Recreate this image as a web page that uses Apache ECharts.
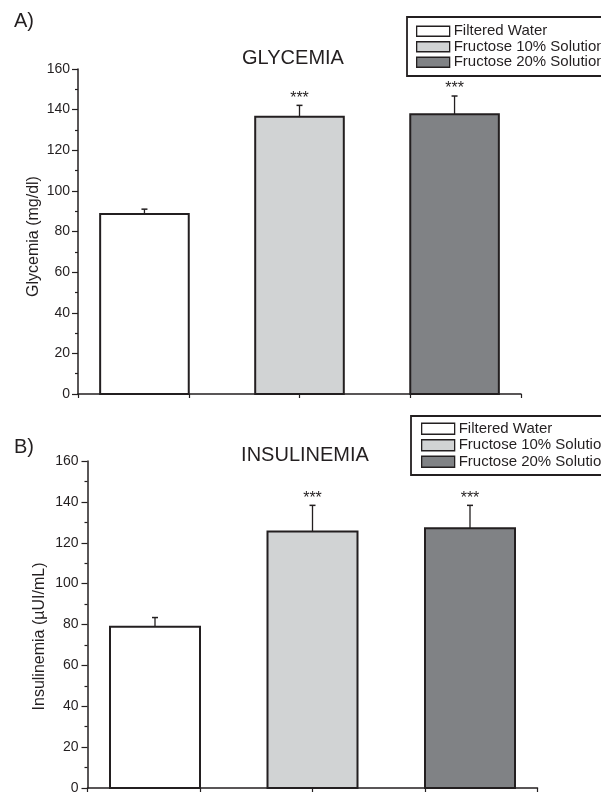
<!DOCTYPE html>
<html>
<head>
<meta charset="utf-8">
<script src="https://cdn.jsdelivr.net/npm/echarts@6/dist/echarts.min.js"></script>
<style>
html,body{margin:0;padding:0;background:#fff;}
#chart{width:601px;height:795px;}
</style>
</head>
<body>
<div id="chart"></div>
<script>
// ---- data ----
const groups = ['Filtered Water', 'Fructose 10% Solution', 'Fructose 20% Solution'];
const glycemia = [88.6, 136.5, 137.7];
const glycemiaErr = [2.4, 5.6, 9.0];
const insulinemia = [78.9, 125.5, 127.1];
const insulinemiaErr = [4.5, 12.8, 11.2];
const significance = ['', '***', '***'];
const yTicks = [0, 20, 40, 60, 80, 100, 120, 140, 160];

// ---- style / layout ----
const FONT = '"Liberation Sans", Arial, Helvetica, sans-serif';
const INK = '#231f20';
const fills = ['#ffffff', '#d1d3d4', '#808285'];
const barCenters = [0.6, 2.0, 3.4];
const halfW = 0.4;

const chart = echarts.init(document.getElementById('chart'), null, {renderer: 'canvas'});

function barSeries(gi, idx, values, errs) {
  return {
    type: 'custom',
    name: groups[idx],
    xAxisIndex: gi, yAxisIndex: gi,
    itemStyle: {color: fills[idx], borderColor: INK, borderWidth: 1.5},
    data: [[barCenters[idx], values[idx], errs[idx]]],
    renderItem: function (params, api) {
      const x = api.value(0), v = api.value(1), e = api.value(2);
      const tl = api.coord([x - halfW, v]);
      const br = api.coord([x + halfW, 0]);
      const c0 = api.coord([x, v]);
      const c1 = api.coord([x, v + e]);
      const children = [
        {type: 'line', shape: {x1: c0[0], y1: c0[1], x2: c1[0], y2: c1[1]},
         style: {stroke: INK, lineWidth: 1.3}},
        {type: 'line', shape: {x1: c1[0] - 3, y1: c1[1], x2: c1[0] + 3, y2: c1[1]},
         style: {stroke: INK, lineWidth: 1.5}},
        {type: 'rect', shape: {x: tl[0], y: tl[1], width: br[0] - tl[0], height: br[1] - tl[1]},
         style: {fill: fills[idx], stroke: INK, lineWidth: 2}}
      ];
      if (significance[idx]) {
        children.push({type: 'text', x: c1[0], y: c1[1] + 1,
          style: {text: significance[idx], align: 'center', verticalAlign: 'bottom',
                  font: '16px ' + FONT, fill: INK}});
      }
      return {type: 'group', children: children};
    }
  };
}

function yAxis(gi, name, margin, nameGap, pad) {
  return {
    type: 'value', gridIndex: gi, min: yTicks[0], max: yTicks[yTicks.length - 1], interval: 20,
    name: name, nameLocation: 'middle', nameGap: nameGap, nameMoveOverlap: false,
    nameTextStyle: {fontFamily: FONT, fontSize: 16, color: INK, padding: pad},
    axisLine: {show: true, lineStyle: {color: INK, width: 1.5}},
    axisTick: {show: true, length: 6, lineStyle: {color: INK, width: 1.2}},
    minorTick: {show: true, splitNumber: 2, length: 3, lineStyle: {color: INK, width: 1.2}},
    splitLine: {show: false},
    axisLabel: {fontFamily: FONT, fontSize: 14, color: INK, margin: margin}
  };
}
function xAxis(gi) {
  return {
    type: 'value', gridIndex: gi, min: 0, max: 4, interval: 1,
    axisLine: {show: true, lineStyle: {color: INK, width: 1.5}},
    axisTick: {show: true, length: 4, lineStyle: {color: INK, width: 1.2}},
    splitLine: {show: false},
    axisLabel: {show: false}
  };
}
function legend(left, top, padding, lineH, iconH) {
  return {
    orient: 'vertical', left: left, top: top, padding: padding, itemGap: 0,
    itemWidth: 33, itemHeight: iconH, icon: 'rect',
    borderColor: INK, borderWidth: 1.8, backgroundColor: '#fff',
    itemStyle: {borderColor: INK, borderWidth: 1.3},
    textStyle: {fontFamily: FONT, fontSize: 15, color: INK, lineHeight: lineH, padding: [0, 0, 0, -1]},
    data: groups.slice()
  };
}
function label(x, y, text, size) {
  return {type: 'text', x: x, y: y,
    style: {text: text, font: size + 'px ' + FONT, fill: INK, align: 'center', verticalAlign: 'middle'}};
}

chart.setOption({
  animation: false,
  backgroundColor: '#fff',
  grid: [
    {left: 78, top: 69, width: 443, height: 325},
    {left: 87.5, top: 461, width: 450, height: 329.5}
  ],
  xAxis: [xAxis(0), xAxis(1)],
  yAxis: [
    yAxis(0, 'Glycemia (mg/dl)', 8, 36, [0, 10, 0, 0]),
    yAxis(1, 'Insulinemia (\u00b5UI/mL)', 9, 40, [0, 24, 0, 0])
  ],
  legend: [
    legend(407, 17, [6.5, 10, 6, 9], 15.5, 10),
    legend(411, 416, [4.5, 10, 5, 10], 16.5, 11)
  ],
  graphic: [
    label(24, 21, 'A)', 20),
    label(293, 58, 'GLYCEMIA', 20),
    label(24, 447, 'B)', 20),
    label(305, 455, 'INSULINEMIA', 20)
  ],
  series: [0, 1, 2].map(i => barSeries(0, i, glycemia, glycemiaErr))
    .concat([0, 1, 2].map(i => barSeries(1, i, insulinemia, insulinemiaErr)))
});
</script>
</body>
</html>
